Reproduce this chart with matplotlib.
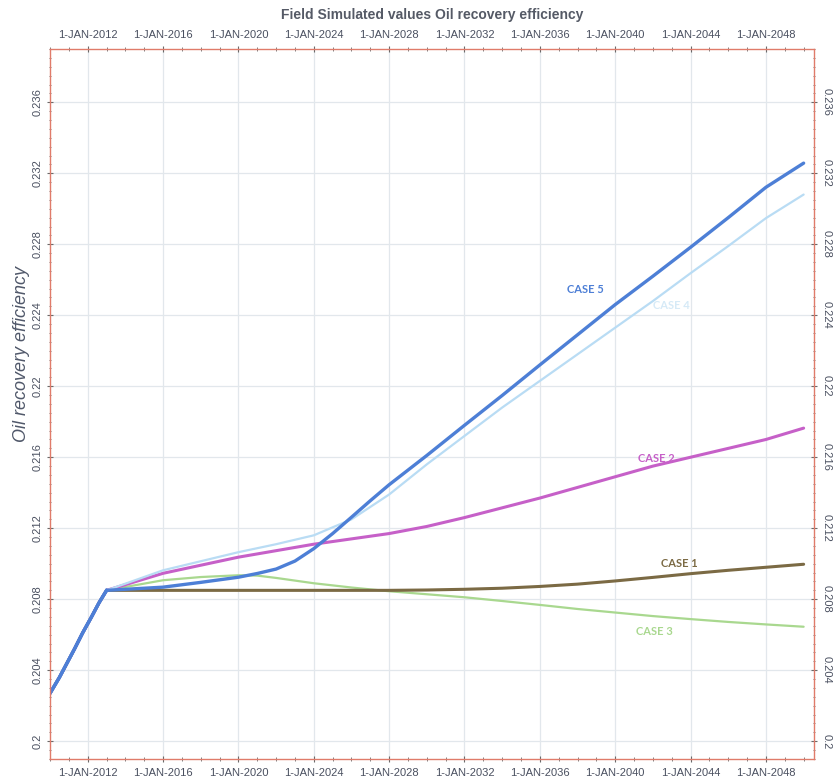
import datetime as dt

import matplotlib.pyplot as plt
import matplotlib.dates as mdates
from matplotlib.ticker import MultipleLocator, FixedLocator

plt.rcParams["font.family"] = ["Liberation Sans", "DejaVu Sans"]

# history shared by all cases (decimal year, recovery factor)
hist_years = [2010.0, 2010.5, 2010.9, 2011.3, 2011.73, 2012.2, 2012.6, 2013.0]
hist_vals = [0.2027, 0.2036, 0.2044, 0.2052, 0.2061, 0.2070, 0.2078, 0.2085]

case1_years = [2013.0, 2016, 2020, 2024, 2028, 2030, 2032, 2034, 2036, 2038, 2040, 2042, 2044, 2046, 2048, 2050.0]
case1_vals = [0.2085, 0.2085, 0.2085, 0.2085, 0.2085, 0.20852, 0.20856, 0.20862, 0.20872, 0.20885,
              0.20903, 0.20923, 0.20944, 0.20963, 0.2098, 0.20997]

case2_years = [2013.0, 2016, 2020, 2024, 2026, 2028, 2030, 2032, 2034, 2036, 2038, 2040, 2042, 2044,
               2046, 2048, 2050.0]
case2_vals = [0.2085, 0.20946, 0.21037, 0.2111, 0.2114, 0.2117, 0.2121, 0.2126, 0.21315, 0.2137,
              0.2143, 0.2149, 0.2155, 0.2160, 0.2165, 0.2170, 0.21764]

case3_years = [2013.0, 2016, 2018, 2020, 2021, 2022, 2024, 2026, 2028, 2030, 2032, 2034, 2036, 2038,
               2040, 2042, 2044, 2046, 2048, 2050.0]
case3_vals = [0.2085, 0.20907, 0.20925, 0.20935, 0.20933, 0.2092, 0.2089, 0.20866, 0.20845, 0.20828,
              0.20811, 0.2079, 0.20768, 0.20745, 0.20725, 0.20705, 0.20688, 0.20672, 0.20658, 0.20645]

case4_years = [2013.0, 2016, 2020, 2022, 2024, 2026, 2028, 2030, 2032, 2034, 2036, 2038, 2040, 2042,
               2044, 2046, 2048, 2050.0]
case4_vals = [0.2085, 0.20963, 0.21065, 0.2111, 0.2116, 0.2125, 0.2139, 0.2156, 0.2172, 0.2188,
              0.2203, 0.2218, 0.2233, 0.2248, 0.22637, 0.2279, 0.22947, 0.2308]

case5_years = [2013.0, 2016, 2018, 2020, 2021, 2022, 2023, 2024, 2025, 2026, 2027, 2028, 2030, 2032,
               2034, 2036, 2038, 2040, 2042, 2044, 2046, 2048, 2050.0]
case5_vals = [0.2085, 0.20868, 0.20895, 0.20924, 0.20945, 0.2097, 0.21015, 0.21085, 0.2117, 0.21262,
              0.21355, 0.21445, 0.2161, 0.2178, 0.21948, 0.2212, 0.2229, 0.2246, 0.2262, 0.22783,
              0.2295, 0.23121, 0.23257]

tick_years = [2012, 2016, 2020, 2024, 2028, 2032, 2036, 2040, 2044, 2048]
tick_labels = ["1-JAN-%d" % y for y in tick_years]


def to_date(year):
    y = int(year)
    start = dt.datetime(y, 1, 1)
    return start + (dt.datetime(y + 1, 1, 1) - start) * (year - y)


def dates(years):
    return [to_date(y) for y in years]


cases = [
    ("CASE 3", case3_years, case3_vals, "#a9d88f", 1.6, 2042.1, 0.2062),
    ("CASE 1", case1_years, case1_vals, "#7b6a44", 2.2, 2043.4, 0.21003),
    ("CASE 2", case2_years, case2_vals, "#c660c8", 2.2, 2042.2, 0.21594),
    ("CASE 4", case4_years, case4_vals, "#b9dcf4", 1.6, 2043.0, 0.22456),
    ("CASE 5", case5_years, case5_vals, "#4d7fd6", 2.4, 2038.4, 0.22547),
]
label_colours = {"CASE 4": "#d6eaf7"}

fig = plt.figure(figsize=(8.34, 7.83), dpi=100)
ax = fig.add_axes([0.060, 0.0307, 0.916, 0.9067])

for name, yrs, vals, colour, lw, lx, ly in cases:
    ax.plot(dates(hist_years + yrs[1:]), hist_vals + vals[1:], color=colour, lw=lw,
            solid_capstyle="round", solid_joinstyle="round")
    ax.text(to_date(lx), ly, name, color=label_colours.get(name, colour), fontsize=8,
            fontweight="bold", ha="center", va="center", family=["Lato", "DejaVu Sans"])

# blue history on top
ax.plot(dates(hist_years), hist_vals, color="#4d7fd6", lw=2.4)

ax.set_xlim(to_date(2010.0), to_date(2050.55))
ax.set_ylim(0.199, 0.239)

ax.xaxis.set_major_locator(FixedLocator(mdates.date2num(dates(tick_years))))
ax.xaxis.set_minor_locator(mdates.YearLocator(1))
ax.set_xticklabels(tick_labels)
ax.yaxis.set_major_locator(MultipleLocator(0.004))
ax.yaxis.set_minor_locator(MultipleLocator(0.0005))
ax.yaxis.set_major_formatter(plt.FuncFormatter(lambda v, p: ("%.3f" % v).rstrip("0").rstrip(".")))

ax.tick_params(axis="both", which="both", direction="inout", colors="#6a6a6a", labelcolor="#4a5060",
               top=True, right=True, labeltop=True, labelright=True)
ax.tick_params(axis="x", which="major", length=5, labelsize=8, pad=4)
ax.tick_params(axis="x", which="minor", length=3)
ax.tick_params(axis="y", which="major", length=5, labelsize=8, pad=3)
ax.tick_params(axis="y", which="minor", length=2)
for t in ax.yaxis.get_major_ticks():
    t.label1.set_rotation(90)
    t.label1.set_va("center")
    t.label2.set_rotation(-90)
    t.label2.set_va("center")

ax.grid(True, which="major", color="#e2e7ec", lw=0.9)
for side in ["left", "right", "top", "bottom"]:
    ax.spines[side].set_color("#e07b6a")
    ax.spines[side].set_linewidth(1.0)

ax.set_ylabel("Oil recovery efficiency", fontsize=13, style="italic", color="#50586a")
ax.yaxis.set_label_coords(-0.026, 0.57)
fig.text(0.518, 0.981, "Field Simulated values Oil recovery efficiency", ha="center", va="center",
         fontsize=10, fontweight="bold", color="#555a66")

fig.savefig("out.png", dpi=100)
